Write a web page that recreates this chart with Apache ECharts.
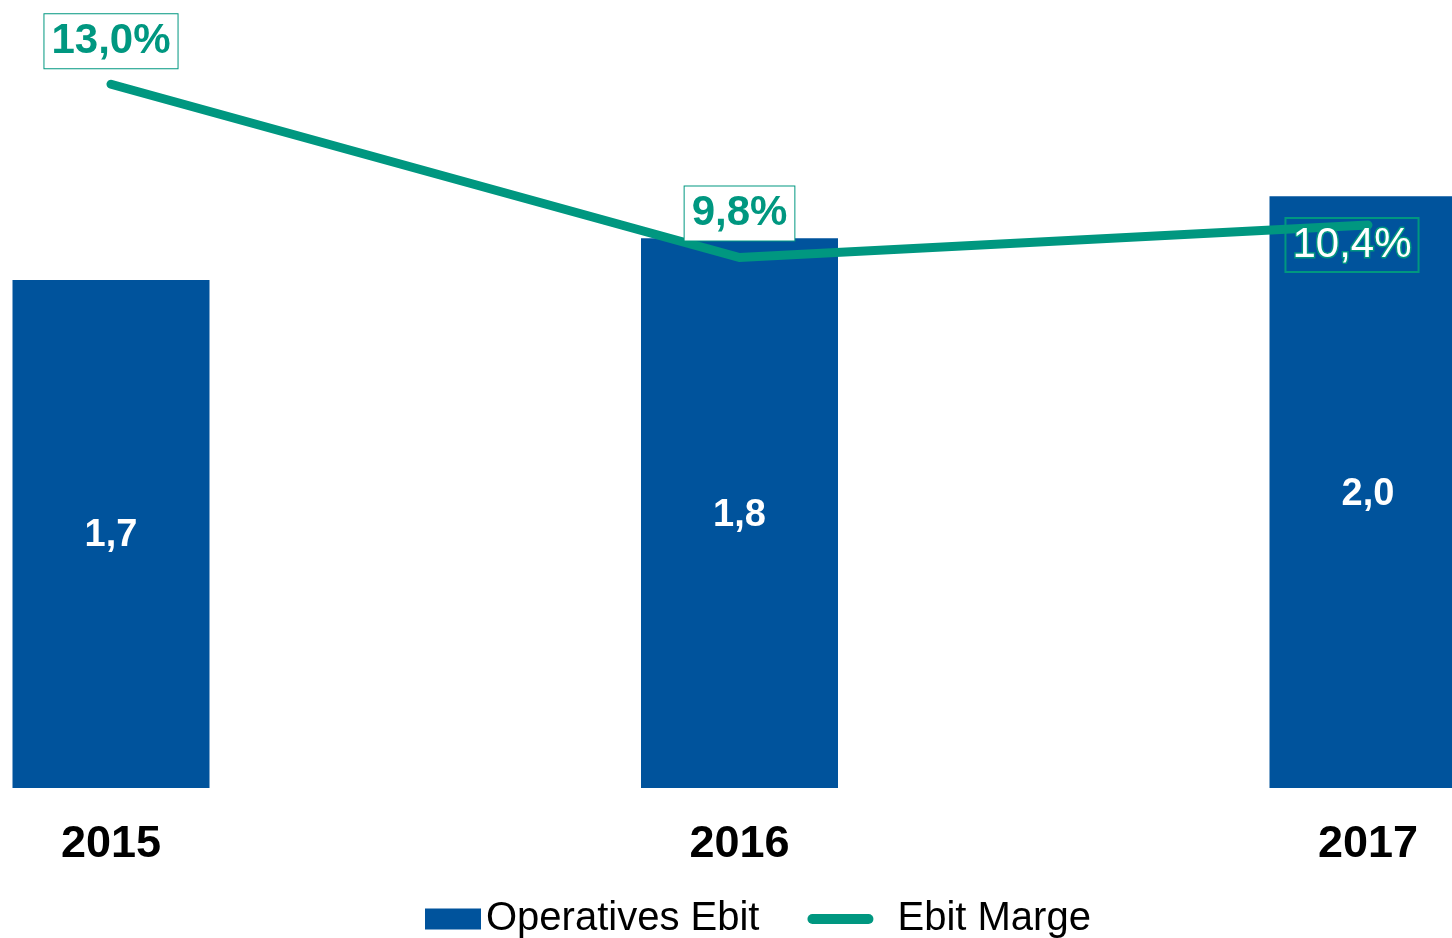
<!DOCTYPE html>
<html>
<head>
<meta charset="utf-8">
<script src="https://cdn.jsdelivr.net/npm/echarts@6/dist/echarts.min.js"></script>
<style>
  html, body { margin: 0; padding: 0; background: #fff; }
  #chart { width: 1452px; height: 938px; }
</style>
</head>
<body>
<div id="chart"></div>
<script>
var chart = echarts.init(document.getElementById('chart'));

const years = ['2015', '2016', '2017'];
const ebit = [1.70, 1.84, 1.98];      // Operatives Ebit
const marge = [13.0, 9.8, 10.4];      // Ebit Marge in %

const blue = '#00539C';
const teal = '#009780';
const font = 'Liberation Sans';

const fmt = (v, d) => v.toFixed(d).replace('.', ',');

// label boxes of the margin line
const margeLabels = [
  { offset: [0, -43], color: teal, fontWeight: 'bold', backgroundColor: '#fff' },
  { offset: [0, -44], color: teal, fontWeight: 'bold', backgroundColor: '#fff' },
  { offset: [-16, 20], color: '#fff', fontWeight: 'normal', backgroundColor: 'transparent',
    textBorderColor: teal, textBorderWidth: 3 }
];

var option = {
  animation: false,
  grid: { left: 111, right: 84, top: 9, bottom: 150 },
  xAxis: {
    type: 'category',
    data: years,
    boundaryGap: false,
    axisLine: { show: false },
    axisTick: { show: false },
    axisLabel: {
      margin: 34,
      fontSize: 45,
      fontWeight: 'bold',
      fontFamily: font,
      color: '#000'
    }
  },
  yAxis: [
    { type: 'value', min: 0, max: 2.607, show: false, splitLine: { show: false } },
    { type: 'value', min: 0, max: 14.39, show: false, splitLine: { show: false } }
  ],
  legend: {
    left: 425,
    bottom: -1,
    padding: 0,
    itemWidth: 56,
    itemHeight: 21,
    itemGap: 48,
    textStyle: { fontSize: 40, fontFamily: font, color: '#000' },
    data: [
      { name: 'Operatives Ebit', icon: 'rect' },
      {
        name: 'Ebit Marge',
        itemStyle: { opacity: 0 },
        lineStyle: { width: 10, cap: 'round' },
        textStyle: { padding: [0, 0, 0, 24] }
      }
    ]
  },
  series: [
    {
      name: 'Operatives Ebit',
      type: 'bar',
      barWidth: 197,
      clip: false,
      itemStyle: { color: blue },
      label: {
        show: true,
        position: 'inside',
        offset: [0, 2],
        color: '#fff',
        fontSize: 38,
        fontWeight: 'bold',
        fontFamily: font,
        formatter: p => fmt(p.value, 1)
      },
      data: ebit
    },
    {
      name: 'Ebit Marge',
      type: 'line',
      yAxisIndex: 1,
      z: 5,
      symbol: 'circle',
      symbolSize: 1,
      clip: false,
      itemStyle: { color: teal },
      lineStyle: { color: teal, width: 9, cap: 'round', join: 'miter' },
      data: marge.map((v, i) => ({
        value: v,
        label: Object.assign({
          show: true,
          position: 'inside',
          fontSize: 42,
          fontFamily: font,
          borderColor: teal,
          borderWidth: 1,
          padding: [7, 7, 5, 7],
          formatter: p => fmt(p.value, 1) + '%'
        }, margeLabels[i])
      }))
    }
  ]
};

chart.setOption(option);
</script>
</body>
</html>
